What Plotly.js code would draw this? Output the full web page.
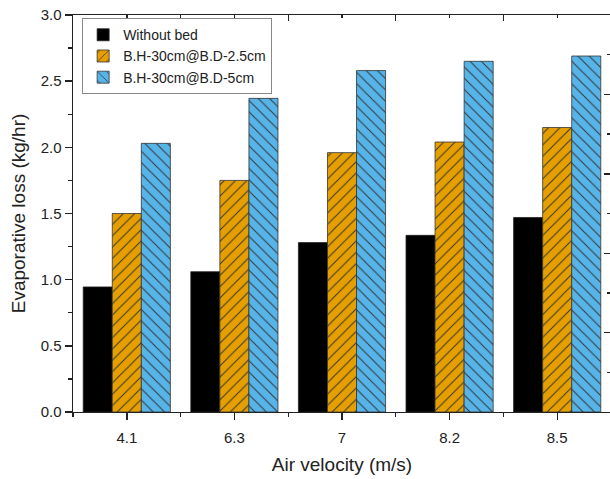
<!DOCTYPE html>
<html>
<head>
<meta charset="utf-8">
<script src="https://cdn.plot.ly/plotly-3.0.1.min.js"></script>
<style>
html,body{margin:0;padding:0;overflow:hidden;background:#fff;}
#chart{width:612px;height:479px;}
</style>
</head>
<body>
<div id="chart"></div>
<script>
// Data
var categories = ["4.1", "6.3", "7", "8.2", "8.5"];
var withoutBed = [0.945, 1.06, 1.28, 1.335, 1.47];
var bd25 = [1.50, 1.75, 1.96, 2.04, 2.15];
var bd5 = [2.03, 2.37, 2.58, 2.65, 2.69];
var seriesNames = ["Without bed", "B.H-30cm@B.D-2.5cm", "B.H-30cm@B.D-5cm"];

var FONT = "Liberation Sans, Arial, sans-serif";

var traces = [
  {type: "bar", name: seriesNames[0], x: categories, y: withoutBed,
   marker: {color: "#000000", line: {color: "#222", width: 0.8}}},
  {type: "bar", name: seriesNames[1], x: categories, y: bd25,
   marker: {color: "#E69F00", line: {color: "#333", width: 0.8},
            pattern: {shape: "/", fgcolor: "#333", bgcolor: "#E69F00", fillmode: "replace", size: 8, solidity: 0.12}}},
  {type: "bar", name: seriesNames[2], x: categories, y: bd5,
   marker: {color: "#56B4E9", line: {color: "#333", width: 0.8},
            pattern: {shape: "\\", fgcolor: "#333", bgcolor: "#56B4E9", fillmode: "replace", size: 8, solidity: 0.12}}},
  // empty helper traces so the frame axes (top / right / boundary ticks) are drawn
  {type: "scatter", x: [], y: [], xaxis: "x2", yaxis: "y", showlegend: false, hoverinfo: "skip"},
  {type: "scatter", x: [], y: [], xaxis: "x3", yaxis: "y", showlegend: false, hoverinfo: "skip"},
  {type: "scatter", x: [], y: [], xaxis: "x", yaxis: "y2", showlegend: false, hoverinfo: "skip"}
];

var layout = {
  width: 612, height: 479,
  margin: {l: 73, r: 1, t: 15, b: 67},
  paper_bgcolor: "#fff", plot_bgcolor: "#fff",
  barmode: "group", bargap: 0.19, bargroupgap: 0,
  font: {family: FONT, color: "#222", size: 15},
  showlegend: true,
  legend: {x: 0.017, y: 0.992, xanchor: "left", yanchor: "top",
           bgcolor: "#fff", bordercolor: "#888", borderwidth: 1,
           font: {family: FONT, size: 14, color: "#222"}, tracegroupgap: 0},
  xaxis: {type: "category", range: [-0.5, 4.5], showline: true, mirror: true, linecolor: "#222", linewidth: 1.4,
          ticks: "outside", ticklen: 7, tickwidth: 1.4, tickcolor: "#222", ticklabelstandoff: 5,
          showgrid: false, zeroline: false,
          tickfont: {family: FONT, size: 15, color: "#222"},
          title: {text: "Air velocity (m/s)", font: {family: FONT, size: 19, color: "#222"}, standoff: 12}},
  xaxis2: {overlaying: "x", side: "bottom", type: "linear", range: [-0.5, 4.5],
           tickmode: "array", tickvals: [-0.5, 0.5, 1.5, 2.5, 3.5, 4.5],
           ticks: "outside", ticklen: 4, tickwidth: 1.4, tickcolor: "#222",
           showticklabels: false, showline: false, showgrid: false, zeroline: false},
  xaxis3: {overlaying: "x", side: "top", type: "linear", range: [-0.5, 4.5],
           tick0: 0.5, dtick: 1, ticks: "inside", ticklen: 6, tickwidth: 1.4, tickcolor: "#222",
           minor: {dtick: 0.5, tick0: 0, ticks: "inside", ticklen: 3, tickcolor: "#222", tickwidth: 1.4},
           showticklabels: false, showline: true, linecolor: "#222", linewidth: 1.4,
           showgrid: false, zeroline: false},
  yaxis: {range: [0, 3], dtick: 0.5, tickformat: ".1f", showline: true, linecolor: "#222", linewidth: 1.4,
          ticks: "outside", ticklen: 7, tickwidth: 1.4, tickcolor: "#222",
          minor: {dtick: 0.25, ticks: "outside", ticklen: 4, tickcolor: "#222", tickwidth: 1.4},
          showgrid: false, zeroline: false,
          tickfont: {family: FONT, size: 15, color: "#222"},
          title: {text: "Evaporative loss (kg/hr)", font: {family: FONT, size: 19, color: "#222"}, standoff: 10}},
  yaxis2: {overlaying: "y", side: "right", range: [0, 5], dtick: 1,
           ticks: "inside", ticklen: 7, tickwidth: 1.4, tickcolor: "#222",
           minor: {dtick: 0.5, ticks: "inside", ticklen: 4, tickcolor: "#222", tickwidth: 1.4},
           showticklabels: false, showline: true, linecolor: "#222", linewidth: 1.4,
           showgrid: false, zeroline: false}
};

Plotly.newPlot("chart", traces, layout, {displayModeBar: false, staticPlot: true});
</script>
</body>
</html>
